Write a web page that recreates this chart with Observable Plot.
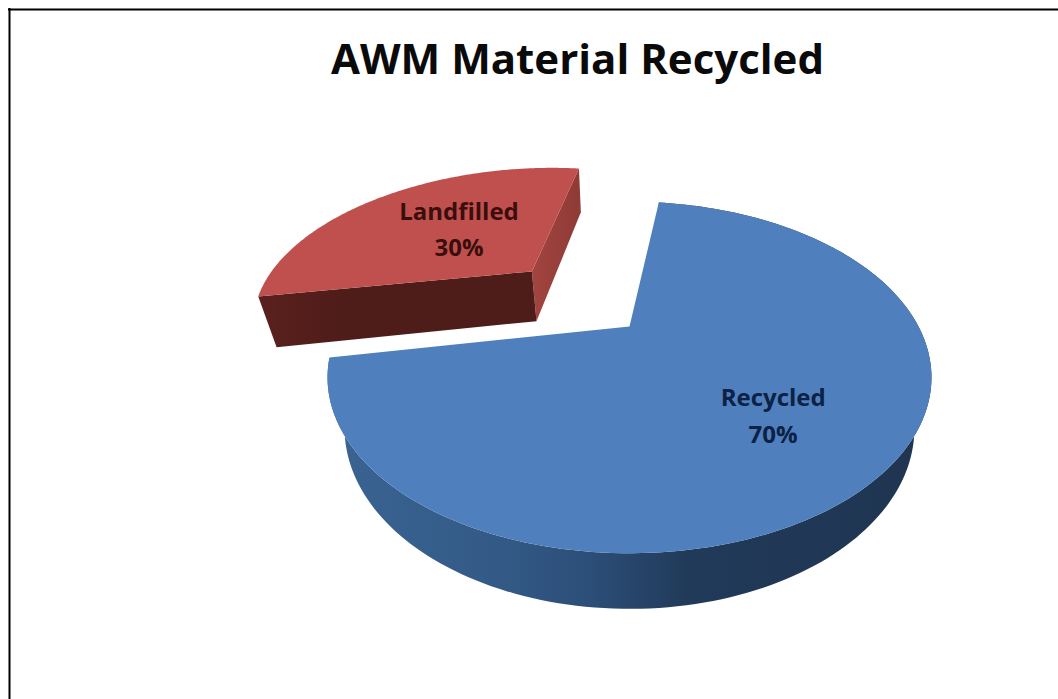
<!DOCTYPE html>
<html>
<head>
<meta charset="utf-8">
<script src="https://cdn.jsdelivr.net/npm/d3@7"></script>
<script src="https://cdn.jsdelivr.net/npm/@observablehq/plot@0.6"></script>
<style>html,body{margin:0;padding:0;background:#fff}svg{display:block}</style>
</head>
<body>
<div id="chart"></div>
<script>
// Data
const categories = ["Recycled", "Landfilled"];
const shares = [70, 30];
const firstSliceAngle = 7.5;         // degrees clockwise from the back of the pie
const explosionU = [0, -0.375];      // slice offset across the pie, in radii
const explosionV = [0, -0.38];       // slice offset toward the viewer, in radii
const labelRadius = [0.633, 0.514];  // label distance from the slice centre, in radii
const labelAngle = [137.2, 317.8];   // label direction, degrees clockwise from the back
const labelColors = ["#0b2145", "#3a0e0d"];
const chartTitle = "AWM Material Recycled";

// Slices in pie-plane coordinates
const total = d3.sum(shares);
let cursor = firstSliceAngle;
const slices = categories.map((name, i) => {
  const start = cursor, end = cursor + shares[i] / total * 360;
  cursor = end;
  return {name, share: shares[i], start, end, cu: explosionU[i], cv: explosionV[i],
          lr: labelRadius[i], la: labelAngle[i] * Math.PI / 180, color: labelColors[i]};
});

// Perspective view of the pie plane
const view = {cx: 629, cy: 326, a: 289, b: 161, k: 0.29, m: 0.055, e: 55};
function project(u, v, d = 0) {
  const w = 1 - view.k * v + view.m * d;
  return {x: view.cx + view.a * u / w, y: view.cy + (view.b * v + view.e * d) / w};
}
const rimPoint = (s, deg, d) => {
  const t = deg * Math.PI / 180;
  return project(s.cu + Math.sin(t), s.cv - Math.cos(t), d);
};
const rim = (s, d) => d3.range(0, 181).map(i => rimPoint(s, s.start + (s.end - s.start) * i / 180, d));
const topFace = s => [project(s.cu, s.cv), ...rim(s, 0)];
const rimSide = s => [...rim(s, 0), ...rim(s, 1).reverse()];
const radialSide = (s, deg) => [project(s.cu, s.cv), rimPoint(s, deg, 0), rimPoint(s, deg, 1), project(s.cu, s.cv, 1)];

const [recycled, landfilled] = slices;
const poly = (pts, fill) => Plot.line(pts, {x: "x", y: "y", fill, stroke: "none"});

const defs = () => {
  const g = document.createElementNS("http://www.w3.org/2000/svg", "defs");
  g.innerHTML = `
  <linearGradient id="blueSide" gradientUnits="userSpaceOnUse" x1="340" x2="920" y1="0" y2="0">
    <stop offset="0" stop-color="#3a6391"/><stop offset="0.25" stop-color="#345b88"/>
    <stop offset="0.42" stop-color="#2c4f79"/><stop offset="0.6" stop-color="#213a59"/>
    <stop offset="1" stop-color="#1f3552"/>
  </linearGradient>
  <linearGradient id="redFront" gradientUnits="userSpaceOnUse" x1="262" x2="540" y1="0" y2="0">
    <stop offset="0" stop-color="#5a201d"/><stop offset="0.3" stop-color="#4e1c19"/><stop offset="1" stop-color="#4e1c19"/>
  </linearGradient>
  <linearGradient id="redRight" gradientUnits="userSpaceOnUse" x1="533" x2="577" y1="0" y2="0">
    <stop offset="0" stop-color="#a2443f"/><stop offset="1" stop-color="#8f3b37"/>
  </linearGradient>`;
  return g;
};

const labelData = slices.map(s => {
  const p = project(s.cu + s.lr * Math.sin(s.la), s.cv - s.lr * Math.cos(s.la));
  return {x: p.x, y: p.y, text: `${s.name}\n${s.share}%`, color: s.color};
});

const chart = Plot.plot({
  width: 1058, height: 699,
  margin: 0,
  x: {domain: [0, 1058], range: [0, 1058], axis: null},
  y: {domain: [0, 699], range: [0, 699], axis: null},
  style: {background: "#fff"},
  marks: [
    defs,
    Plot.ruleY([9], {x1: 8, x2: 1058, stroke: "#000", strokeWidth: 2}),
    Plot.ruleX([9], {y1: 8, y2: 699, stroke: "#000", strokeWidth: 2}),
    poly(rimSide(recycled), "url(#blueSide)"),
    poly(topFace(recycled), "#4f80bd"),
    poly(radialSide(landfilled, landfilled.end), "url(#redRight)"),
    poly(radialSide(landfilled, landfilled.start), "url(#redFront)"),
    poly(topFace(landfilled), "#c0504d"),
    Plot.text(labelData, {x: "x", y: "y", text: "text", fill: "color", fontFamily: "Open Sans", fontWeight: 700, fontSize: 24, lineHeight: 1.53}),
    Plot.text([chartTitle], {x: [577], y: [60], fontFamily: "Open Sans", fontWeight: 700, fontSize: 42, fill: "#0a0a0a"})
  ]
});
document.getElementById("chart").append(chart);
</script>
</body>
</html>
